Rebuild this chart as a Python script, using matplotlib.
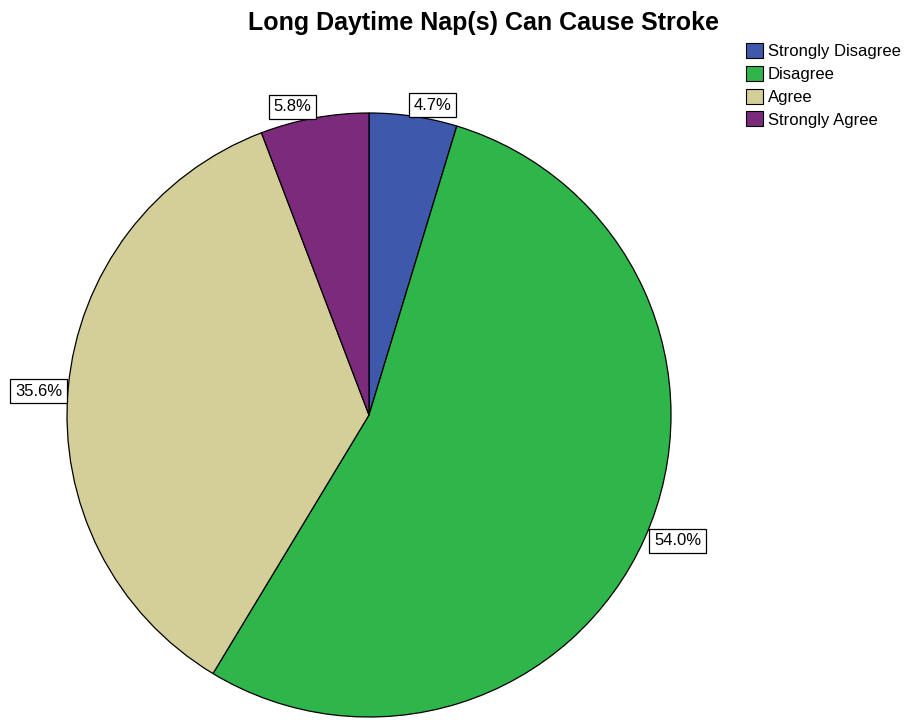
import numpy as np
import matplotlib
matplotlib.use("Agg")
import matplotlib.pyplot as plt
from matplotlib.patches import Patch

plt.rcParams['font.family'] = ['Liberation Sans', 'DejaVu Sans']

title = "Long Daytime Nap(s) Can Cause Stroke"
categories = ["Strongly Disagree", "Disagree", "Agree", "Strongly Agree"]
percents = [4.7, 54.0, 35.6, 5.8]
colors = ["#3E58AC", "#2EB64A", "#D4CE98", "#7B2A7C"]

W, H = 915, 720
fig = plt.figure(figsize=(W / 100, H / 100), dpi=100)
cx, cy, r = 369, 415, 302
ax = fig.add_axes([(cx - r) / W, (H - cy - r) / H, 2 * r / W, 2 * r / H])
wedges, _ = ax.pie(percents, colors=colors, startangle=90, counterclock=False,
                   wedgeprops=dict(edgecolor="black", linewidth=0.9))
ax.set_xlim(-1, 1)
ax.set_ylim(-1, 1)
ax.set_aspect('equal')
ax.axis('off')

for w, p in zip(wedges, percents):
    ang = np.deg2rad((w.theta1 + w.theta2) / 2)
    x, y = np.cos(ang), np.sin(ang)
    ha = 'left' if x > 0 else 'right'
    if y > 0.9:
        va = 'bottom'
        dx = 0.0 if x > 0 else -0.01
        dy = 0.012
    elif y < -0.9:
        va = 'top'
        dx, dy = 0.0, 0.0
    else:
        va = 'center'
        dx = 0.03 if x > 0 else -0.02
        dy = -0.01
    ax.text(x + dx, y + dy, f"{p:.1f}%", ha=ha, va=va, fontsize=12, clip_on=False,
            bbox=dict(boxstyle='square,pad=0.28', facecolor='white', edgecolor='black', linewidth=0.9))

fig.text(484 / W, 1 - 23 / H, title, ha='center', va='center', fontsize=18, fontweight='bold')

handles = [Patch(facecolor=c, edgecolor='black', linewidth=0.8) for c in colors]
fig.legend(handles, categories, loc='upper left', bbox_to_anchor=(746 / W, 1 - 43 / H),
           frameon=False, fontsize=12, handlelength=1.0, handleheight=1.0,
           handletextpad=0.3, labelspacing=0.4, borderpad=0, borderaxespad=0)

fig.savefig("out.png", dpi=100, facecolor='white')
